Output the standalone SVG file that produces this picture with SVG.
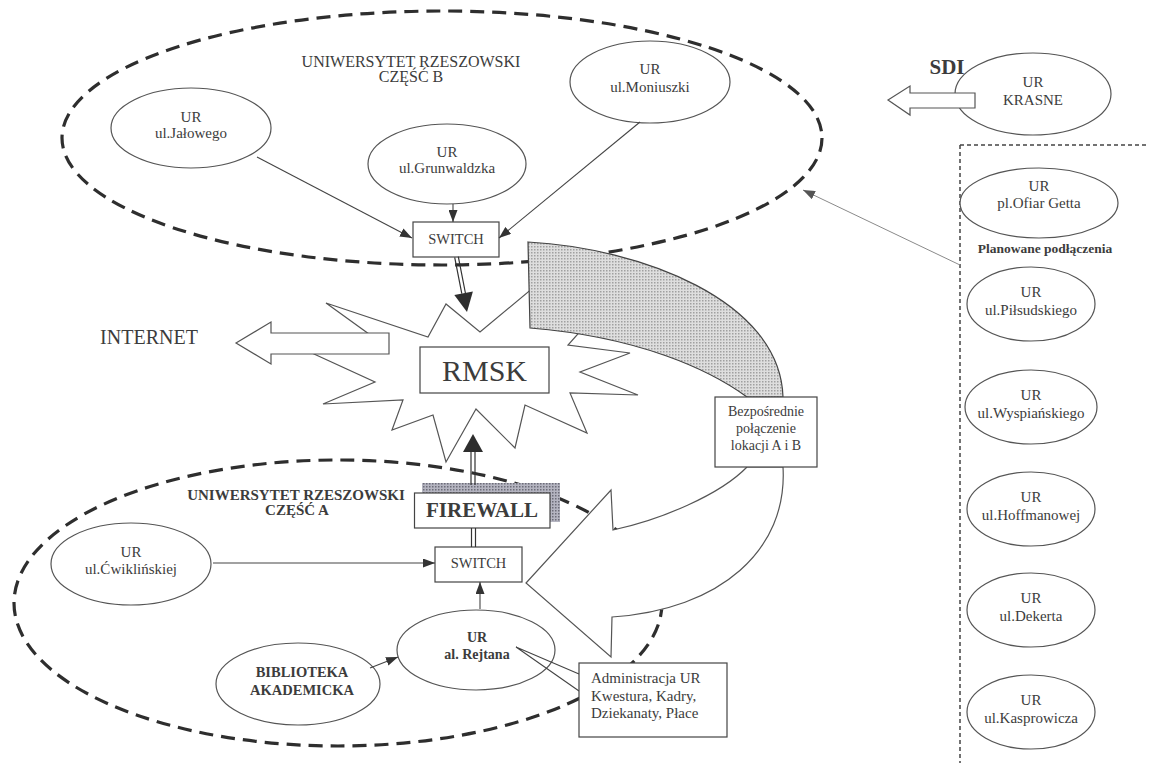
<svg xmlns="http://www.w3.org/2000/svg" width="1149" height="763" viewBox="0 0 1149 763">
<defs>
<style>
.dash{fill:none;stroke:#2e2e2e;stroke-width:3.2;stroke-dasharray:14 8}
.dot{fill:none;stroke:#444;stroke-width:1.5;stroke-dasharray:4 3}
.node{fill:#fff;stroke:#555;stroke-width:1.2}
.box{fill:#fff;stroke:#444;stroke-width:1.2}
.t{font-family:"Liberation Serif","Times New Roman",serif;fill:#3c3c3c;text-anchor:middle;font-size:15px}
.l{text-anchor:start}
.b{font-weight:bold}
.ln{stroke:#444;stroke-width:1.1;fill:none}
.dl{stroke:#333;stroke-width:1.2;fill:none}
.head{fill:#2e2e2e}
.blk{fill:#fff;stroke:#555;stroke-width:1.2}
</style>
<marker id="ah" viewBox="0 0 12 9" refX="12" refY="4.5" markerWidth="12" markerHeight="9" orient="auto" markerUnits="userSpaceOnUse"><path d="M0,0 L12,4.5 L0,9 z" fill="#333"/></marker>
<marker id="ahg" viewBox="0 0 12 9" refX="12" refY="4.5" markerWidth="12" markerHeight="9" orient="auto" markerUnits="userSpaceOnUse"><path d="M0,0 L12,4.5 L0,9 z" fill="#555"/></marker>
<pattern id="dots" width="3" height="3" patternUnits="userSpaceOnUse"><rect width="3" height="3" fill="#dedede"/><rect width="1.5" height="1.5" fill="#a0a0a0"/></pattern>
<pattern id="dots2" width="3" height="3" patternUnits="userSpaceOnUse"><rect width="3" height="3" fill="#b4b4c0"/><rect width="1.5" height="1.5" fill="#6c6c78"/></pattern>
</defs>
<rect width="1149" height="763" fill="#fff"/>

<g id="regions">
<ellipse cx="442" cy="138" rx="380" ry="127" class="dash"/>
<ellipse cx="338" cy="603" rx="324" ry="143" class="dash"/>
<path d="M960,145 H1149 M960,145 V763" class="dot"/>
<text class="t" x="411" y="67" style="font-size:16px">UNIWERSYTET RZESZOWSKI</text>
<text class="t" x="411" y="82" style="font-size:16px">CZĘŚĆ B</text>
<text class="t b" x="296" y="500">UNIWERSYTET RZESZOWSKI</text>
<text class="t b" x="297" y="515">CZĘŚĆ A</text>
<text class="t b" x="1045" y="253" style="font-size:13.5px">Planowane podłączenia</text>
<text class="t" x="149" y="344" style="font-size:20px">INTERNET</text>
</g>

<g id="rmsk">
<polygon class="blk" points="326,303 428,337 446,304 480,332 540,282 617,290 568,345 630,353 580,372 638,395 570,393 587,433 525,405 515,448 476,409 446,462 433,415 392,430 403,400 323,404 375,382 290,343 380,342"/>
<rect class="box" x="420" y="347" width="129" height="46"/>
<text class="t" x="484.5" y="381" style="font-size:30px">RMSK</text>
</g>

<g id="internet-arrow">
<polygon class="blk" points="236,343 271,322 271,333 389,333 389,354 271,354 271,364"/>
</g>

<g id="direct-link">
<path d="M528,242 C640,248 780,300 783,397 L747,397 C710,370 640,337 530,328 Z" fill="url(#dots)" stroke="#444" stroke-width="1.2"/>
<path class="blk" d="M783,467 C788,550 720,610 612,617 L611,657 L526,583 L611,490 L613,530 C660,520 720,495 747,467 Z"/>
<rect class="box" x="715" y="397" width="102" height="70"/>
<text class="t" x="766" y="416" style="font-size:14px">Bezpośrednie</text>
<text class="t" x="766" y="433" style="font-size:14px">połączenie</text>
<text class="t" x="766" y="450" style="font-size:14px">lokacji A i B</text>
</g>

<g id="n-jalowego"><ellipse class="node" cx="191" cy="128" rx="80" ry="40"/><text class="t" x="191" y="121.5">UR</text><text class="t" x="191" y="137.5">ul.Jałowego</text></g>
<g id="n-grunwaldzka"><ellipse class="node" cx="447" cy="164" rx="79" ry="40"/><text class="t" x="447" y="157">UR</text><text class="t" x="447" y="173">ul.Grunwaldzka</text></g>
<g id="n-moniuszki"><ellipse class="node" cx="650" cy="82" rx="80" ry="41"/><text class="t" x="650" y="74">UR</text><text class="t" x="650" y="92">ul.Moniuszki</text></g>
<g id="switch-b"><rect class="box" x="413" y="222" width="86" height="35"/><text class="t" x="456" y="244" style="font-size:14.5px">SWITCH</text></g>

<g id="n-krasne"><ellipse class="node" cx="1033" cy="94" rx="78" ry="41"/><text class="t" x="1033" y="87">UR</text><text class="t" x="1033" y="105">KRASNE</text></g>
<g id="sdi"><polygon class="blk" points="888,100 910,86 910,93 975,93 975,108 910,108 910,115"/><text class="t b" x="947" y="74" style="font-size:21px">SDI</text></g>

<g id="n-ofiar"><ellipse class="node" cx="1039" cy="203" rx="79" ry="35"/><text class="t" x="1039" y="191">UR</text><text class="t" x="1039" y="208">pl.Ofiar Getta</text></g>
<g id="n-pilsudskiego"><ellipse class="node" cx="1031" cy="304" rx="64" ry="37"/><text class="t" x="1031" y="297">UR</text><text class="t" x="1031" y="315">ul.Piłsudskiego</text></g>
<g id="n-wyspianskiego"><ellipse class="node" cx="1031" cy="407" rx="66" ry="37"/><text class="t" x="1031" y="400">UR</text><text class="t" x="1031" y="418">ul.Wyspiańskiego</text></g>
<g id="n-hoffmanowej"><ellipse class="node" cx="1031" cy="509" rx="64" ry="37"/><text class="t" x="1031" y="502">UR</text><text class="t" x="1031" y="520">ul.Hoffmanowej</text></g>
<g id="n-dekerta"><ellipse class="node" cx="1031" cy="610" rx="64" ry="37"/><text class="t" x="1031" y="603">UR</text><text class="t" x="1031" y="621">ul.Dekerta</text></g>
<g id="n-kasprowicza"><ellipse class="node" cx="1031" cy="712" rx="64" ry="37"/><text class="t" x="1031" y="705">UR</text><text class="t" x="1031" y="723">ul.Kasprowicza</text></g>

<g id="n-cwiklinskiej"><ellipse class="node" cx="131" cy="564" rx="80" ry="41"/><text class="t" x="131" y="557">UR</text><text class="t" x="131" y="574">ul.Ćwiklińskiej</text></g>
<g id="n-rejtana"><ellipse class="node" cx="476" cy="650" rx="79" ry="40"/><text class="t b" x="477" y="642" style="font-size:14px">UR</text><text class="t b" x="477" y="659" style="font-size:14px">al. Rejtana</text></g>
<g id="n-biblioteka"><ellipse class="node" cx="298" cy="684" rx="82" ry="41"/><text class="t b" x="302" y="677" style="font-size:14.5px">BIBLIOTEKA</text><text class="t b" x="302" y="695" style="font-size:14.5px">AKADEMICKA</text></g>
<g id="switch-a"><rect class="box" x="435" y="547" width="87" height="35"/><text class="t" x="478.5" y="568" style="font-size:14.5px">SWITCH</text></g>
<g id="firewall"><rect x="422" y="483" width="138" height="39" fill="url(#dots2)"/><rect class="box" x="414.5" y="493" width="135.5" height="35"/><text class="t b" x="482" y="517" style="font-size:21px">FIREWALL</text></g>
<g id="administracja"><path class="ln" d="M579,674 L516,647 L579,691"/><rect class="box" x="579" y="663" width="148" height="74"/><text class="t l" x="591" y="683">Administracja UR</text><text class="t l" x="591" y="701">Kwestura, Kadry,</text><text class="t l" x="591" y="718">Dziekanaty, Płace</text></g>

<g id="connectors">
<line class="ln" x1="257" y1="157" x2="412" y2="238" marker-end="url(#ah)"/>
<line class="ln" x1="453" y1="204" x2="453" y2="222" marker-end="url(#ah)"/>
<line class="ln" x1="640" y1="122" x2="499" y2="238" marker-end="url(#ah)"/>
<path class="dl" d="M454.7,257.3 L461.8,293.6 M458.3,256.7 L465.4,293"/>
<polygon class="head" points="467,312 454.3,295 472.9,291.6"/>
<path class="dl" d="M471,485 V452 M475,485 V452"/>
<polygon class="head" points="473,434 463,452 483,452"/>
<path class="dl" d="M471.5,528 V547 M475.5,528 V547"/>
<line class="ln" x1="213" y1="563" x2="435" y2="563" marker-end="url(#ah)"/>
<line class="ln" x1="480" y1="609" x2="480" y2="582" marker-end="url(#ah)"/>
<line class="ln" x1="370" y1="668" x2="398" y2="657" marker-end="url(#ah)"/>
<line x1="960" y1="265" x2="803" y2="190" stroke="#8a8a8a" stroke-width="1" marker-end="url(#ahg)"/>
</g>
</svg>
